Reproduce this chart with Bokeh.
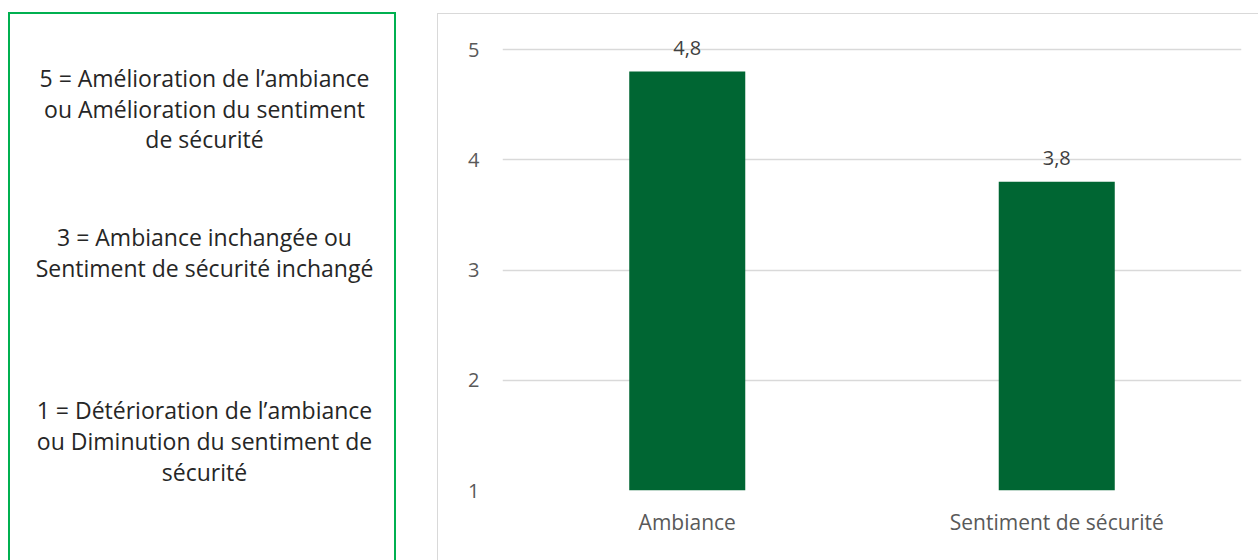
from bokeh.plotting import figure
from bokeh.layouts import row
from bokeh.models import Range1d, FactorRange, FixedTicker, ColumnDataSource
from bokeh.core.properties import value
from bokeh.embed import file_html
from bokeh.resources import INLINE

# ---- data ----
categories = ["Ambiance", "Sentiment de sécurité"]
scores = [4.8, 3.8]
y_ticks = [1, 2, 3, 4, 5]
legend_groups = [
    ["5 = Amélioration de l’ambiance",
     "ou Amélioration du sentiment",
     "de sécurité"],
    ["3 = Ambiance inchangée ou",
     "Sentiment de sécurité inchangé"],
    ["1 = Détérioration de l’ambiance",
     "ou Diminution du sentiment de",
     "sécurité"],
]

FONT = "Open Sans"

# layout constants (page pixels)
group_first_y = [77, 236, 408]
line_step = 30.7
MB_TOP = 2
MB_BOTTOM = 71

# ---- left explanatory box (green border drawn by CSS) ----
left = figure(width=388, height=548, x_range=Range1d(10, 394), y_range=Range1d(489, 16),
              x_axis_location=None, y_axis_location=None, output_backend="svg",
              toolbar_location=None, min_border_left=0, min_border_right=0,
              min_border_top=MB_TOP, min_border_bottom=MB_BOTTOM, outline_line_color=None,
              margin=(12, 41, 0, 8),
              styles={"border-top": "2px solid #00b050", "border-left": "2px solid #00b050",
                      "border-right": "2px solid #00b050"})
left.grid.visible = False
txt, ys = [], []
for g, y0 in zip(legend_groups, group_first_y):
    for i, line in enumerate(g):
        txt.append(line)
        ys.append(y0 + i * line_step)
left.text(x=[202] * len(txt), y=ys, text=txt, text_align="center", text_baseline="middle",
          text_font=value(FONT), text_font_size="23px", text_color="#262626")

# ---- bar chart ----
src = ColumnDataSource(dict(cat=categories, score=scores,
                            label=[f"{v:.1f}".replace(".", ",") for v in scores]))

p = figure(width=821, height=547, x_range=FactorRange(*categories), y_range=Range1d(1, 5.3),
           output_backend="svg", toolbar_location=None,
           min_border_left=64, min_border_right=18, min_border_top=MB_TOP,
           min_border_bottom=MB_BOTTOM, outline_line_color=None, margin=(13, 0, 0, 0),
           styles={"border-top": "1px solid #d9d9d9", "border-left": "1px solid #d9d9d9"})
p.x_range.range_padding = 0
p.vbar(x="cat", top="score", bottom=1, width=0.314, source=src,
       fill_color="#006633", line_color=None)
p.text(x="cat", y="score", text="label", source=src, text_align="center",
       text_baseline="middle", y_offset=-24, text_font=value(FONT),
       text_font_size="20px", text_color="#404040")

p.xgrid.visible = False
p.ygrid.ticker = FixedTicker(ticks=y_ticks)
p.ygrid.grid_line_color = "#d9d9d9"
p.ygrid.grid_line_width = 1.5
p.yaxis.ticker = FixedTicker(ticks=y_ticks)

for ax in (p.xaxis, p.yaxis):
    ax.axis_line_color = None
    ax.major_tick_line_color = None
    ax.minor_tick_line_color = None
    ax.major_label_text_font = FONT
    ax.major_label_text_color = "#595959"
p.yaxis.major_label_text_font_size = "20px"
p.xaxis.major_label_text_font_size = "21px"
p.yaxis.major_label_standoff = 17
p.xaxis.major_label_standoff = 11

layout = row(left, p)
open("out.html", "w").write(file_html(layout, INLINE))
